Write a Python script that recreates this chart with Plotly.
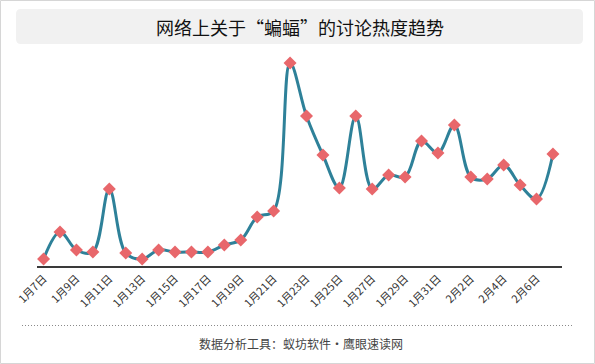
import plotly.graph_objects as go

dates = ["1月7日","1月8日","1月9日","1月10日","1月11日","1月12日","1月13日","1月14日",
         "1月15日","1月16日","1月17日","1月18日","1月19日","1月20日","1月21日","1月22日",
         "1月23日","1月24日","1月25日","1月26日","1月27日","1月28日","1月29日","1月30日",
         "1月31日","2月1日","2月2日","2月3日","2月4日","2月5日","2月6日","2月7日"]
heat = [7, 34, 16, 14, 77, 13, 7, 16, 14, 14, 14, 21, 26, 49, 55, 203,
        150, 111, 78, 150, 77, 91, 89, 125, 113, 141, 89, 87, 101, 81, 67, 112]
tick_labels = dates[::2]

title_text = "网络上关于“蝙蝠”的讨论热度趋势"
footer_text = "数据分析工具：蚁坊软件·鹰眼速读网"

W, H = 595, 364
L, R, T, B = 37, 33, 50, 98
pw, ph = W - L - R, H - T - B

def px(x):
    return (x - L) / pw

def py(y):
    return (H - B - y) / ph

FONT = "Noto Sans CJK SC, sans-serif"

fig = go.Figure()
fig.add_trace(go.Scatter(
    x=dates, y=heat, mode="lines+markers",
    line=dict(color="#2E8199", width=3, shape="spline", smoothing=1),
    marker=dict(symbol="diamond", size=10, color="#E8676B"),
    hoverinfo="x+y",
))

# rounded title box path
x0, x1, y0, y1, r = 16, 583, 9, 44, 5
path = (f"M {px(x0+r)},{py(y0)} L {px(x1-r)},{py(y0)} Q {px(x1)},{py(y0)} {px(x1)},{py(y0+r)} "
        f"L {px(x1)},{py(y1-r)} Q {px(x1)},{py(y1)} {px(x1-r)},{py(y1)} "
        f"L {px(x0+r)},{py(y1)} Q {px(x0)},{py(y1)} {px(x0)},{py(y1-r)} "
        f"L {px(x0)},{py(y0+r)} Q {px(x0)},{py(y0)} {px(x0+r)},{py(y0)} Z")

shapes = [
    dict(type="path", xref="paper", yref="paper", path=path,
         fillcolor="#F1F1F1", line=dict(width=0), layer="below"),
    dict(type="line", xref="paper", yref="paper", x0=px(22), x1=px(573), y0=py(325.5), y1=py(325.5),
         line=dict(color="#8A8A8A", width=1, dash="1px,2px")),
    dict(type="rect", xref="paper", yref="paper", x0=px(0.5), x1=px(594.5), y0=py(0.5), y1=py(363.5),
         line=dict(color="#D6D6D6", width=1), fillcolor="rgba(0,0,0,0)"),
]

annotations = [
    dict(text=title_text, xref="paper", yref="paper", x=px(300), y=py(27),
         showarrow=False, font=dict(family=FONT, size=18, color="#111111"),
         xanchor="center", yanchor="middle"),
    dict(text=footer_text, xref="paper", yref="paper", x=px(301), y=py(343),
         showarrow=False, font=dict(family=FONT, size=12, color="#444444"),
         xanchor="center", yanchor="middle"),
]

fig.update_layout(
    width=W, height=H,
    margin=dict(l=L, r=R, t=T, b=B, autoexpand=False),
    paper_bgcolor="white", plot_bgcolor="white",
    showlegend=False,
    shapes=shapes, annotations=annotations,
    font=dict(family=FONT),
    xaxis=dict(
        type="category", range=[-0.4, 31.55],
        tickmode="array", tickvals=tick_labels, ticktext=tick_labels,
        tickangle=-45, tickfont=dict(family=FONT, size=11, color="#333333"),
        showgrid=False, zeroline=False,
        showline=True, linecolor="#3A3A3A", linewidth=2,
        ticks="", automargin=False,
    ),
    yaxis=dict(
        range=[0, 216], visible=False, showgrid=False, zeroline=False,
    ),
)

fig.write_html("out.html", config={"displayModeBar": False},
               post_script="document.body.style.margin='0';document.body.style.overflow='hidden';")
